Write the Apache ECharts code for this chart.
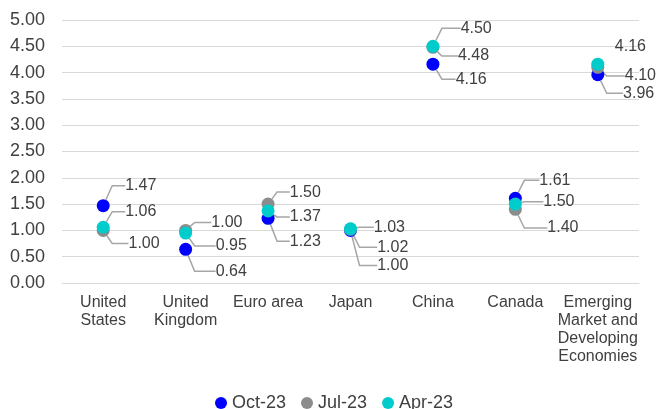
<!DOCTYPE html>
<html>
<head>
<meta charset="utf-8">
<script src="https://cdn.jsdelivr.net/npm/echarts@6/dist/echarts.min.js"></script>
<style>html,body{margin:0;padding:0;background:#fff;}#c{width:657px;height:409px;}</style>
</head>
<body>
<div id="c"></div>
<script>
var categories = ['United States', 'United Kingdom', 'Euro area', 'Japan', 'China', 'Canada', 'Emerging Market and Developing Economies'];
var seriesNames = ['Oct-23', 'Jul-23', 'Apr-23'];
var oct23 = [1.47, 0.64, 1.23, 1.00, 4.16, 1.61, 3.96];
var jul23 = [1.00, 1.00, 1.50, 1.02, 4.48, 1.40, 4.10];
var apr23 = [1.06, 0.95, 1.37, 1.03, 4.50, 1.50, 4.16];
var yTicks = [0, 0.5, 1, 1.5, 2, 2.5, 3, 3.5, 4, 4.5, 5];

// label callout layout (layout only): [text left offset from point, vertical offset]
var labelOffsets = [
  [[22, -20], [30, 22], [21.7, 23], [26.7, 35], [22.7, 15], [24, -18], [25.3, 18.6]],
  [[25.3, 13], [25.7, -8], [21.7, -12], [26.7, 18], [25, 8.6], [32, 18.6], [27, 8.7]],
  [[22, -15.5], [30, 13], [21.7, 6], [23.3, -1.5], [27.7, -18], [28, -2.4], [17, -18]]
];
var colors = ['#0000ff', '#8c8c8c', '#00cccc'];
var values = [oct23, jul23, apr23];

var font = 'Liberation Sans, Arial, sans-serif';
var SYMBOL = 13, PAD = 7;

var measureCtx = document.createElement('canvas').getContext('2d');
measureCtx.font = '16px ' + font;
function wrap(text, maxW) {
  var words = text.split(' '), lines = [], cur = '';
  words.forEach(function (w) {
    var t = cur ? cur + ' ' + w : w;
    if (cur && measureCtx.measureText(t).width > maxW) { lines.push(cur); cur = w; }
    else cur = t;
  });
  if (cur) lines.push(cur);
  return lines.join('\n');
}

var chart = echarts.init(document.getElementById('c'));
chart.setOption({
  animation: false,
  textStyle: { fontFamily: font },
  grid: { left: 62, right: 18, top: 20, bottom: 126, containLabel: false },
  legend: {
    left: 210, top: 389,
    itemWidth: 12, itemHeight: 12, itemGap: 15,
    icon: 'circle',
    textStyle: { fontSize: 18, color: '#404040', fontFamily: font },
    data: seriesNames
  },
  xAxis: {
    type: 'category',
    data: categories,
    axisTick: { show: false },
    axisLine: { lineStyle: { color: '#d9d9d9', width: 1 } },
    axisLabel: {
      interval: 0, fontSize: 16, color: '#404040', margin: 11, lineHeight: 18, fontFamily: font,
      formatter: function (v) { return wrap(v, 84); }
    }
  },
  yAxis: {
    type: 'value',
    min: yTicks[0], max: yTicks[yTicks.length - 1], interval: 0.5,
    axisLine: { show: false },
    axisTick: { show: false },
    splitLine: { lineStyle: { color: '#d9d9d9', width: 1 } },
    axisLabel: {
      fontSize: 18, color: '#404040', margin: 17, fontFamily: font,
      formatter: function (v) { return v.toFixed(2); }
    }
  },
  series: values.map(function (vals, si) {
    return {
      name: seriesNames[si],
      type: 'scatter',
      data: vals.map(function (v, ci) {
        var tx = labelOffsets[si][ci][0];
        var l2 = tx - PAD - 2;
        return { value: v, labelLine: { show: l2 >= 10, length2: l2 } };
      }),
      symbol: 'circle',
      symbolSize: SYMBOL,
      itemStyle: { color: colors[si], opacity: 1 },
      label: {
        show: true, position: 'right', distance: 0,
        padding: [0, 0, 0, PAD],
        fontSize: 16, color: '#404040', fontFamily: font,
        formatter: function (p) { return p.value.toFixed(2); }
      },
      labelLine: { show: true, minTurnAngle: 0, lineStyle: { color: '#a6a6a6', width: 1.5 } },
      labelLayout: function (p) {
        var o = labelOffsets[p.seriesIndex][p.dataIndex];
        return { dx: o[0] - SYMBOL / 2 - PAD, dy: o[1] };
      },
      emphasis: { disabled: true }
    };
  })
});
</script>
</body>
</html>
